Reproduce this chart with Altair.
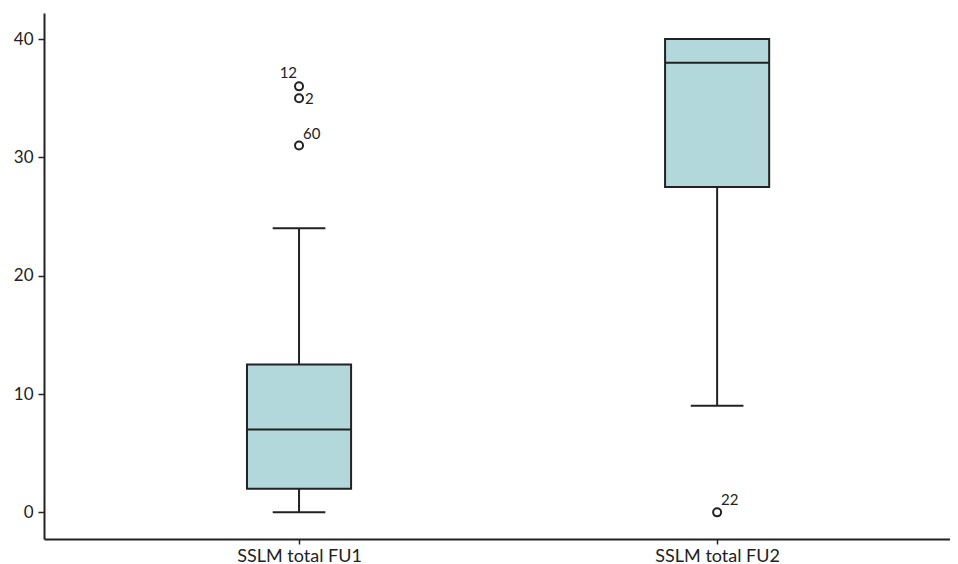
import altair as alt
import pandas as pd

categories = ["SSLM total FU1", "SSLM total FU2"]
positions = [1, 2]
whisker_low = [0, 9]
q1 = [2, 27.5]
median = [7, 38]
q3 = [12.5, 40]
whisker_high = [24, 40]

outlier_pos = [1, 1, 1, 2]
outlier_val = [36, 35, 31, 0]
outlier_id = ["12", "2", "60", "22"]
# label placement offsets (px) relative to point
label_dx = [-2, 6, 4, 4]
label_dy = [-8, 6, -7, -7]
label_align = ["right", "left", "left", "left"]

box_df = pd.DataFrame({
    "cat": categories, "pos": positions, "lo": whisker_low, "q1": q1,
    "med": median, "q3": q3, "hi": whisker_high,
})
out_df = pd.DataFrame({"pos": outlier_pos, "val": outlier_val, "id": outlier_id})

INK = "#222222"
FILL = "#b3d8db"
FONT = "Lato"

xscale = alt.Scale(domain=[0.39, 2.557], nice=False, zero=False)
yscale = alt.Scale(domain=[-2.25, 42.2], nice=False, zero=False)

xaxis = alt.Axis(values=[1, 2], title=None, grid=False,
                 labelExpr="datum.value == 1 ? 'SSLM total FU1' : 'SSLM total FU2'",
                 labelFont=FONT, labelFontSize=18, labelColor=INK, labelPadding=3,
                 tickColor=INK, tickWidth=1.5, tickSize=5, domainColor=INK, domainWidth=2)
yaxis = alt.Axis(values=[0, 10, 20, 30, 40], title=None, grid=False,
                 labelFont=FONT, labelFontSize=17, labelColor=INK, labelPadding=5,
                 tickColor=INK, tickWidth=1.5, tickSize=6, domainColor=INK, domainWidth=2)

base = alt.Chart(box_df).transform_calculate(
    left="datum.pos - 0.1245", right="datum.pos + 0.1245",
    capl="datum.pos - 0.063", capr="datum.pos + 0.063",
)

whisk_low = base.mark_rule(color=INK, strokeWidth=2).encode(
    x=alt.X("pos:Q", scale=xscale, axis=xaxis),
    y=alt.Y("lo:Q", scale=yscale, axis=yaxis),
    y2="q1:Q",
)
whisk_high = base.mark_rule(color=INK, strokeWidth=2).encode(
    x=alt.X("pos:Q", scale=xscale), y=alt.Y("q3:Q", scale=yscale), y2="hi:Q",
)
box = base.mark_rect(fill=FILL, stroke=INK, strokeWidth=2).encode(
    x=alt.X("left:Q", scale=xscale), x2="right:Q",
    y=alt.Y("q1:Q", scale=yscale), y2="q3:Q",
)
med = base.mark_rule(color=INK, strokeWidth=2).encode(
    x=alt.X("left:Q", scale=xscale), x2="right:Q", y=alt.Y("med:Q", scale=yscale),
)
cap_low = base.mark_rule(color=INK, strokeWidth=2).encode(
    x=alt.X("capl:Q", scale=xscale), x2="capr:Q", y=alt.Y("lo:Q", scale=yscale),
)
cap_high = base.mark_rule(color=INK, strokeWidth=2).encode(
    x=alt.X("capl:Q", scale=xscale), x2="capr:Q", y=alt.Y("hi:Q", scale=yscale),
)

pts = alt.Chart(out_df).mark_point(shape="circle", size=64, filled=False,
                                   stroke=INK, strokeWidth=2, opacity=1).encode(
    x=alt.X("pos:Q", scale=xscale), y=alt.Y("val:Q", scale=yscale),
)

texts = []
for i in range(len(outlier_id)):
    texts.append(
        alt.Chart(out_df.iloc[[i]]).mark_text(
            font=FONT, fontSize=15, color=INK, align=label_align[i],
            baseline="alphabetic", dx=label_dx[i], dy=label_dy[i],
        ).encode(x=alt.X("pos:Q", scale=xscale), y=alt.Y("val:Q", scale=yscale), text="id:N")
    )

chart = alt.layer(whisk_low, whisk_high, box, med, cap_low, cap_high, pts, *texts).properties(
    width=906, height=526,
    autosize=alt.AutoSizeParams(type="none"),
    padding={"left": 36, "top": 5, "right": 0, "bottom": 25},
).configure(background="white").configure_view(strokeWidth=0, stroke="transparent")

chart.save("out.html", embed_options={"renderer": "svg", "actions": False})
